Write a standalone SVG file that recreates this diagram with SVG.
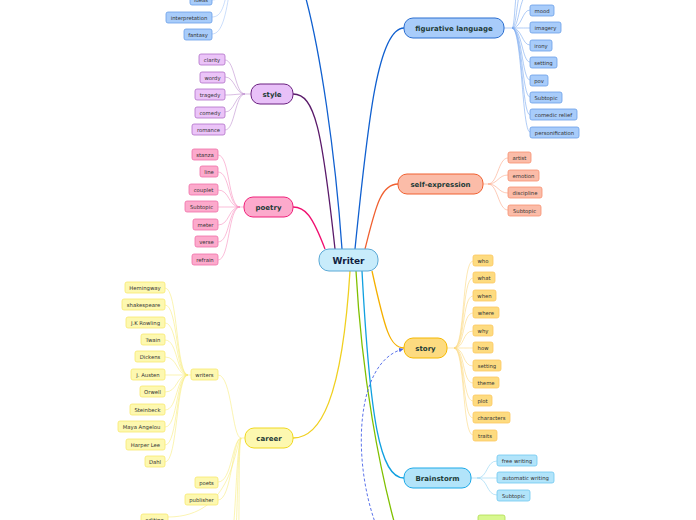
<svg xmlns="http://www.w3.org/2000/svg" width="696" height="520" viewBox="0 0 696 520">
<style>
text{font-family:"DejaVu Sans","Verdana",sans-serif;text-anchor:middle;dominant-baseline:central}
.m{font-size:7px;font-weight:bold;fill:#1d3b37}
.s{font-size:5.3px;fill:#333}
.c{fill:none;stroke-width:1.3}
.sc{fill:none;stroke-width:0.6}
.b rect{fill:#a8ccfa;stroke:#6a9ee8;stroke-width:0.8}
.p rect{fill:#ebc4f8;stroke:#b070c8;stroke-width:0.8}
.k rect{fill:#fcaacc;stroke:#f070a8;stroke-width:0.8}
.o rect{fill:#fbbca8;stroke:#f89070;stroke-width:0.8}
.y rect{fill:#fddb80;stroke:#fcc860;stroke-width:0.8}
.cy rect{fill:#b2e4fa;stroke:#70c8f0;stroke-width:0.8}
.ye rect{fill:#fdf8b0;stroke:#f8e870;stroke-width:0.8}
</style>
<defs>
<marker id="ar" viewBox="0 0 10 10" refX="9" refY="5" markerWidth="5" markerHeight="5" orient="auto"><path d="M0,0L10,5L0,10z" fill="#4a64e8"/></marker>
</defs>
<rect width="696" height="520" fill="#fff"/>
<g id="connectors">
<!-- main -->
<path class="c" stroke="#1060d0" d="M342,249 C335,150 320,50 305,-5"/>
<path class="c" stroke="#1060d0" d="M355,249 C368,120 378,28 404,28"/>
<path class="c" stroke="#5a1a6a" d="M335,249 C322,130 315,94 293,94"/>
<path class="c" stroke="#f01070" d="M325,249 C312,215 305,207 293,207"/>
<path class="c" stroke="#f06030" d="M365,249 C375,210 380,184 398,184"/>
<path class="c" stroke="#f5b000" d="M372,271 C385,330 390,348 404,348"/>
<path class="c" stroke="#f0d020" d="M350,271 C342,400 320,438 293,438"/>
<path class="c" stroke="#80c000" d="M356,271 C362,380 380,470 395,525"/>
<path class="c" stroke="#10a0e0" d="M362,271 C370,420 380,478 404,478"/>
<path fill="none" stroke="#4a64e8" stroke-width="0.9" stroke-dasharray="3,2" marker-end="url(#ar)" d="M376,525 C352,460 355,362 403,349"/>
<!-- top-left blue -->
<g stroke="#a8c8f8" class="sc">
<path d="M212,0 C220,0 222,-5 226,-12"/>
<path d="M212,17 C222,17 224,5 228,-12"/>
<path d="M212,34 C222,34 226,15 230,-12"/>
</g>
<!-- figurative -->
<g stroke="#7aaaf0" class="sc">
<path d="M504,28 L512,28"/>
<path d="M512,28 C520,28 518,-5 530,-8"/>
<path d="M512,28 C518,28 516,-20 528,-25"/>
<path d="M512,28 C516,28 514,-35 526,-42"/>
<path d="M512,28 C522,28 522,10 530,10"/>
<path d="M512,28 C522,28 522,28 530,28"/>
<path d="M512,28 C522,28 522,45 530,45"/>
<path d="M512,28 C522,28 522,62 530,62"/>
<path d="M512,28 C522,28 522,80 530,80"/>
<path d="M512,28 C522,28 522,97 530,97"/>
<path d="M512,28 C522,28 522,115 530,115"/>
<path d="M512,28 C522,28 522,132 530,132"/>
</g>
<!-- style -->
<g stroke="#c090d0" class="sc">
<path d="M251,94 L245,94"/>
<path d="M245,94 C235,94 235,60 225,60"/>
<path d="M245,94 C235,94 235,77 225,77"/>
<path d="M245,94 C235,94 235,95 225,95"/>
<path d="M245,94 C235,94 235,112 225,112"/>
<path d="M245,94 C235,94 235,130 225,130"/>
</g>
<!-- poetry -->
<g stroke="#f890c0" class="sc">
<path d="M244,207 L240,207"/>
<path d="M240,207 C228,207 230,155 218,155"/>
<path d="M240,207 C228,207 230,172 218,172"/>
<path d="M240,207 C228,207 230,190 218,190"/>
<path d="M240,207 C228,207 230,207 218,207"/>
<path d="M240,207 C228,207 230,225 218,225"/>
<path d="M240,207 C228,207 230,242 218,242"/>
<path d="M240,207 C228,207 230,260 218,260"/>
</g>
<!-- self-expression -->
<g stroke="#fca888" class="sc">
<path d="M483,184 L488,184"/>
<path d="M488,184 C498,184 498,158 508,158"/>
<path d="M488,184 C498,184 498,175 508,175"/>
<path d="M488,184 C498,184 498,193 508,193"/>
<path d="M488,184 C498,184 498,210 508,210"/>
</g>
<!-- story -->
<g stroke="#fcd880" class="sc">
<path d="M447,348 L454,348"/>
<path d="M454,348 C465,348 462,261 473,261"/>
<path d="M454,348 C465,348 462,278 473,278"/>
<path d="M454,348 C465,348 462,296 473,296"/>
<path d="M454,348 C465,348 462,313 473,313"/>
<path d="M454,348 C465,348 462,331 473,331"/>
<path d="M454,348 C465,348 462,348 473,348"/>
<path d="M454,348 C465,348 462,366 473,366"/>
<path d="M454,348 C465,348 462,383 473,383"/>
<path d="M454,348 C465,348 462,401 473,401"/>
<path d="M454,348 C465,348 462,418 473,418"/>
<path d="M454,348 C465,348 462,435 473,435"/>
</g>
<!-- brainstorm -->
<g stroke="#90d4f4" class="sc">
<path d="M471,478 L477,478"/>
<path d="M477,478 C488,478 486,461 497,461"/>
<path d="M477,478 C488,478 486,478 497,478"/>
<path d="M477,478 C488,478 486,495 497,495"/>
</g>
<!-- career -->
<g stroke="#f8ec80" class="sc">
<path d="M245,438 L241,438"/>
<path d="M241,438 C232,438 232,375 218,375"/>
<path d="M241,438 C232,440 232,482 218,482"/>
<path d="M241,438 C232,440 232,500 218,500"/>
<path d="M241,438 C234,445 234,517 168,517"/>
<path d="M241,438 C236,450 236,520 232,535"/>
<path d="M241,438 C237,450 238,520 235,540"/>
<path d="M241,438 C238,450 240,520 238,545"/>
<path d="M191,375 L188,375"/>
<path d="M188,375 C176,375 178,288 165,288"/>
<path d="M188,375 C176,375 178,305 165,305"/>
<path d="M188,375 C176,375 178,323 165,323"/>
<path d="M188,375 C176,375 178,340 165,340"/>
<path d="M188,375 C176,375 178,357 165,357"/>
<path d="M188,375 C176,375 178,375 165,375"/>
<path d="M188,375 C176,375 178,392 165,392"/>
<path d="M188,375 C176,375 178,410 165,410"/>
<path d="M188,375 C176,375 178,427 165,427"/>
<path d="M188,375 C176,375 178,445 165,445"/>
<path d="M188,375 C176,375 178,462 165,462"/>
</g>
</g>
<g id="writer"><rect x="319" y="249" width="59" height="22" rx="10" fill="#c8ecfb" stroke="#5aa9d6" stroke-width="1"/><text x="348.5" y="260.5" style="font-size:9px;font-weight:bold;fill:#102040">Writer</text></g>
<g id="figurative"><rect x="404" y="18" width="100" height="20" rx="9" fill="#a8ccfa" stroke="#2a6ed0" stroke-width="1"/><text class="m" x="454" y="28.5">figurative language</text></g>
<g id="selfexpression"><rect x="398" y="174" width="85" height="20" rx="9" fill="#fbbca8" stroke="#f06030" stroke-width="1"/><text class="m" x="440.5" y="184.5">self-expression</text></g>
<g id="story"><rect x="404" y="338" width="43" height="20" rx="9" fill="#fddb80" stroke="#f5b800" stroke-width="1"/><text class="m" x="425.5" y="348.5">story</text></g>
<g id="brainstorm"><rect x="404" y="468" width="67" height="20" rx="9" fill="#b2e4fa" stroke="#1ca9e8" stroke-width="1"/><text class="m" x="437.5" y="478.5">Brainstorm</text></g>
<g id="career"><rect x="245" y="428" width="48" height="20" rx="9" fill="#fdf8b0" stroke="#f0d820" stroke-width="1"/><text class="m" x="269" y="438.5">career</text></g>
<g id="poetry"><rect x="244" y="197" width="49" height="20" rx="9" fill="#fcaacc" stroke="#f0207a" stroke-width="1"/><text class="m" x="268.5" y="207.5">poetry</text></g>
<g id="style"><rect x="251" y="84" width="42" height="20" rx="9" fill="#e8c0f8" stroke="#6a2080" stroke-width="1"/><text class="m" x="272" y="94.5">style</text></g>
<g id="green"><rect x="478" y="515" width="27" height="14" rx="2" fill="#d8f890" stroke="#b0dc50" stroke-width="0.8"/></g>
<g id="tl" class="b">
<g id="ideas"><rect x="190" y="-6" width="22" height="11" rx="2"/><text class="s" x="201" y="0">ideas</text></g>
<g id="interpretation"><rect x="166" y="12" width="46" height="11" rx="2"/><text class="s" x="189" y="17.5">interpretation</text></g>
<g id="fantasy"><rect x="184" y="29" width="28" height="11" rx="2"/><text class="s" x="198" y="34.5">fantasy</text></g>
</g>
<g id="fig-subs" class="b">
<g id="mood"><rect x="530" y="5" width="24" height="11" rx="2"/><text class="s" x="542" y="10.5">mood</text></g>
<g id="imagery"><rect x="530" y="22" width="31" height="11" rx="2"/><text class="s" x="545.5" y="27.5">imagery</text></g>
<g id="irony"><rect x="530" y="40" width="22" height="11" rx="2"/><text class="s" x="541" y="45.5">irony</text></g>
<g id="setting1"><rect x="530" y="57" width="27" height="11" rx="2"/><text class="s" x="543.5" y="62.5">setting</text></g>
<g id="pov"><rect x="530" y="75" width="18" height="11" rx="2"/><text class="s" x="539" y="80.5">pov</text></g>
<g id="sub1"><rect x="530" y="92" width="32" height="11" rx="2"/><text class="s" x="546" y="97.5">Subtopic</text></g>
<g id="comedic"><rect x="530" y="109" width="47" height="11" rx="2"/><text class="s" x="553.5" y="114.5">comedic relief</text></g>
<g id="personification"><rect x="530" y="127" width="49" height="11" rx="2"/><text class="s" x="554.5" y="132.5">personification</text></g>
</g>
<g id="style-subs" class="p">
<g id="clarity"><rect x="199" y="54" width="26" height="11" rx="2"/><text class="s" x="212" y="59.5">clarity</text></g>
<g id="wordy"><rect x="200" y="72" width="25" height="11" rx="2"/><text class="s" x="212.5" y="77.5">wordy</text></g>
<g id="tragedy"><rect x="195" y="89" width="30" height="11" rx="2"/><text class="s" x="210" y="94.5">tragedy</text></g>
<g id="comedy"><rect x="195" y="107" width="30" height="11" rx="2"/><text class="s" x="210" y="112.5">comedy</text></g>
<g id="romance"><rect x="192" y="124" width="33" height="11" rx="2"/><text class="s" x="208.5" y="129.5">romance</text></g>
</g>
<g id="poetry-subs" class="k">
<g id="stanza"><rect x="192" y="149" width="26" height="11" rx="2"/><text class="s" x="205" y="154.5">stanza</text></g>
<g id="line"><rect x="200" y="166" width="18" height="11" rx="2"/><text class="s" x="209" y="171.5">line</text></g>
<g id="couplet"><rect x="189" y="184" width="29" height="11" rx="2"/><text class="s" x="203.5" y="189.5">couplet</text></g>
<g id="sub2"><rect x="185" y="201" width="33" height="11" rx="2"/><text class="s" x="201.5" y="206.5">Subtopic</text></g>
<g id="meter"><rect x="193" y="219" width="25" height="11" rx="2"/><text class="s" x="205.5" y="224.5">meter</text></g>
<g id="verse"><rect x="195" y="236" width="23" height="11" rx="2"/><text class="s" x="206.5" y="241.5">verse</text></g>
<g id="refrain"><rect x="192" y="254" width="26" height="11" rx="2"/><text class="s" x="205" y="259.5">refrain</text></g>
</g>
<g id="self-subs" class="o">
<g id="artist"><rect x="508" y="152" width="23" height="11" rx="2"/><text class="s" x="519.5" y="157.5">artist</text></g>
<g id="emotion"><rect x="508" y="170" width="31" height="11" rx="2"/><text class="s" x="523.5" y="175.5">emotion</text></g>
<g id="discipline"><rect x="508" y="187" width="34" height="11" rx="2"/><text class="s" x="525" y="192.5">discipline</text></g>
<g id="sub3"><rect x="508" y="205" width="33" height="11" rx="2"/><text class="s" x="524.5" y="210.5">Subtopic</text></g>
</g>
<g id="story-subs" class="y">
<g id="who"><rect x="473" y="255" width="20" height="11" rx="2"/><text class="s" x="483" y="260.5">who</text></g>
<g id="what"><rect x="473" y="272" width="22" height="11" rx="2"/><text class="s" x="484" y="277.5">what</text></g>
<g id="when"><rect x="473" y="290" width="23" height="11" rx="2"/><text class="s" x="484.5" y="295.5">when</text></g>
<g id="where"><rect x="473" y="307" width="26" height="11" rx="2"/><text class="s" x="486" y="312.5">where</text></g>
<g id="why"><rect x="473" y="325" width="20" height="11" rx="2"/><text class="s" x="483" y="330.5">why</text></g>
<g id="how"><rect x="473" y="342" width="20" height="11" rx="2"/><text class="s" x="483" y="347.5">how</text></g>
<g id="setting2"><rect x="473" y="360" width="28" height="11" rx="2"/><text class="s" x="487" y="365.5">setting</text></g>
<g id="theme"><rect x="473" y="377" width="26" height="11" rx="2"/><text class="s" x="486" y="382.5">theme</text></g>
<g id="plot"><rect x="473" y="395" width="19" height="11" rx="2"/><text class="s" x="482.5" y="400.5">plot</text></g>
<g id="characters"><rect x="473" y="412" width="37" height="11" rx="2"/><text class="s" x="491.5" y="417.5">characters</text></g>
<g id="traits"><rect x="473" y="430" width="24" height="11" rx="2"/><text class="s" x="485" y="435.5">traits</text></g>
</g>
<g id="brain-subs" class="cy">
<g id="free"><rect x="497" y="455" width="40" height="11" rx="2"/><text class="s" x="517" y="460.5">free writing</text></g>
<g id="auto"><rect x="497" y="472" width="57" height="11" rx="2"/><text class="s" x="525.5" y="477.5">automatic writing</text></g>
<g id="sub4"><rect x="497" y="490" width="33" height="11" rx="2"/><text class="s" x="513.5" y="495.5">Subtopic</text></g>
</g>
<g id="career-subs" class="ye">
<g id="writers"><rect x="191" y="369" width="27" height="11" rx="2"/><text class="s" x="204.5" y="374.5">writers</text></g>
<g id="poets"><rect x="195" y="477" width="23" height="11" rx="2"/><text class="s" x="206.5" y="482.5">poets</text></g>
<g id="publisher"><rect x="185" y="494" width="33" height="11" rx="2"/><text class="s" x="201.5" y="499.5">publisher</text></g>
<g id="editing"><rect x="141" y="514" width="27" height="11" rx="2"/><text class="s" x="154.5" y="519.5">editing</text></g>
<g id="hemingway"><rect x="125" y="282" width="40" height="11" rx="2"/><text class="s" x="145" y="287.5">Hemingway</text></g>
<g id="shakespeare"><rect x="122" y="299" width="43" height="11" rx="2"/><text class="s" x="143.5" y="304.5">shakespeare</text></g>
<g id="rowling"><rect x="126" y="317" width="39" height="11" rx="2"/><text class="s" x="145.5" y="322.5">J.K Rowling</text></g>
<g id="twain"><rect x="141" y="334" width="24" height="11" rx="2"/><text class="s" x="153" y="339.5">Twain</text></g>
<g id="dickens"><rect x="135" y="351" width="30" height="11" rx="2"/><text class="s" x="150" y="356.5">Dickens</text></g>
<g id="austen"><rect x="131" y="369" width="34" height="11" rx="2"/><text class="s" x="148" y="374.5">J. Austen</text></g>
<g id="orwell"><rect x="140" y="386" width="25" height="11" rx="2"/><text class="s" x="152.5" y="391.5">Orwell</text></g>
<g id="steinbeck"><rect x="130" y="404" width="35" height="11" rx="2"/><text class="s" x="147.5" y="409.5">Steinbeck</text></g>
<g id="angelou"><rect x="118" y="421" width="47" height="11" rx="2"/><text class="s" x="141.5" y="426.5">Maya Angelou</text></g>
<g id="harperlee"><rect x="126" y="439" width="39" height="11" rx="2"/><text class="s" x="145.5" y="444.5">Harper Lee</text></g>
<g id="dahl"><rect x="145" y="456" width="20" height="11" rx="2"/><text class="s" x="155" y="461.5">Dahl</text></g>
</g>
</svg>
